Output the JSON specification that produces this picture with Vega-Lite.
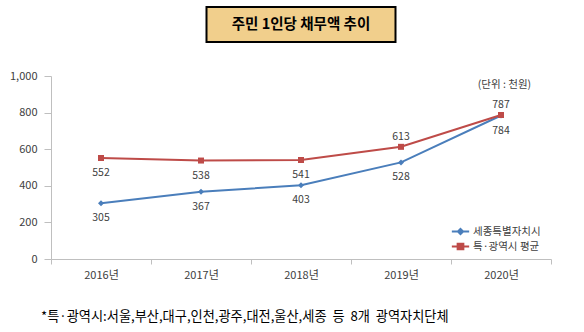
{
  "$schema": "https://vega.github.io/schema/vega-lite/v6.json",
  "background": "white",
  "padding": {"left": 9, "top": 6, "right": 5, "bottom": 5},
  "config": {"font": "Noto Sans CJK KR", "view": {"stroke": null}},
  "bounds": "flush",
  "center": true,
  "spacing": 34,
  "vconcat": [
    {
      "width": 189,
      "height": 35,
      "view": {"fill": "#F1CF8C", "stroke": "black", "strokeWidth": 2},
      "data": {"values": [{"t": "주민 1인당 채무액 추이"}]},
      "mark": {"type": "text", "fontSize": 14.5, "fontWeight": "bold", "color": "black"},
      "encoding": {"text": {"field": "t", "type": "nominal"}}
    },
    {
      "width": 500,
      "height": 183,
      "data": {
        "values": [
          {"year": "2016년", "series": "세종특별자치시", "value": 305},
          {"year": "2017년", "series": "세종특별자치시", "value": 367},
          {"year": "2018년", "series": "세종특별자치시", "value": 403},
          {"year": "2019년", "series": "세종특별자치시", "value": 528},
          {"year": "2020년", "series": "세종특별자치시", "value": 784},
          {"year": "2016년", "series": "특·광역시 평균", "value": 552},
          {"year": "2017년", "series": "특·광역시 평균", "value": 538},
          {"year": "2018년", "series": "특·광역시 평균", "value": 541},
          {"year": "2019년", "series": "특·광역시 평균", "value": 613},
          {"year": "2020년", "series": "특·광역시 평균", "value": 787}
        ]
      },
      "title": {
        "text": "*특·광역시:서울,부산,대구,인천,광주,대전,울산,세종\u00a0\u00a0등\u00a0\u00a08개\u00a0\u00a0광역자치단체",
        "orient": "bottom",
        "anchor": "start",
        "frame": "group",
        "fontSize": 13.2,
        "fontWeight": "normal",
        "color": "black",
        "offset": 31,
        "dx": -10
      },
      "encoding": {
        "x": {
          "field": "year",
          "type": "ordinal",
          "scale": {"type": "band", "paddingInner": 0, "paddingOuter": 0},
          "axis": {
            "title": null,
            "labelAngle": 0,
            "tickBand": "extent",
            "tickSize": 5,
            "labelPadding": 5,
            "labelFontSize": 11,
            "labelColor": "#404040",
            "domainColor": "#BFBFBF",
            "tickColor": "#BFBFBF",
            "grid": false
          }
        },
        "y": {
          "field": "value",
          "type": "quantitative",
          "scale": {"domain": [0, 1000], "nice": false},
          "axis": {
            "values": [0, 200, 400, 600, 800, 1000],
            "format": ",d",
            "grid": false,
            "tickSize": 7,
            "labelPadding": 7,
            "labelFontSize": 11,
            "labelColor": "#404040",
            "domainColor": "#BFBFBF",
            "tickColor": "#BFBFBF",
            "title": "(단위 : 천원)",
            "titleAngle": 0,
            "titleX": 453,
            "titleY": 8,
            "titleAlign": "center",
            "titleBaseline": "middle",
            "titleFontSize": 10.5,
            "titleFontWeight": "normal",
            "titleColor": "#404040"
          }
        },
        "color": {
          "field": "series",
          "type": "nominal",
          "scale": {"domain": ["세종특별자치시", "특·광역시 평균"], "range": ["#4A7EBB", "#BE4B48"]},
          "legend": {
            "title": null,
            "orient": "none",
            "legendX": 404,
            "legendY": 219,
            "padding": 0,
            "symbolSize": 75,
            "symbolStrokeWidth": 2,
            "labelFontSize": 10.5,
            "labelColor": "#404040",
            "labelOffset": 7,
            "rowPadding": 0,
            "encode": {
              "symbols": {
                "update": {
                  "shape": {"signal": "datum.value === '세종특별자치시' ? 'M-2,0H2M0,-0.6L0.6,0L0,0.6L-0.6,0Z' : 'M-2,0H2M-0.66,-0.66H0.66V0.66H-0.66Z'"},
                  "fill": {"scale": "color", "field": "value"},
                  "stroke": {"scale": "color", "field": "value"},
                  "fillOpacity": {"value": 1},
                  "strokeOpacity": {"value": 1},
                  "opacity": {"value": 1}
                }
              }
            }
          }
        }
      },
      "layer": [
        {
          "mark": {"type": "line", "strokeWidth": 2}
        },
        {
          "transform": [{"filter": "datum.series === '세종특별자치시'"}],
          "mark": {"type": "point", "filled": true, "opacity": 1, "size": 36, "shape": "diamond"}
        },
        {
          "transform": [{"filter": "datum.series !== '세종특별자치시'"}],
          "mark": {"type": "point", "filled": true, "opacity": 1, "size": 36, "shape": "square"}
        },
        {
          "transform": [{"filter": "datum.series === '세종특별자치시' || datum.year < '2019년'"}],
          "mark": {"type": "text", "dy": 15, "fontSize": 10.5, "color": "#404040"},
          "encoding": {"text": {"field": "value", "type": "quantitative"}, "color": {"value": "#404040"}}
        },
        {
          "transform": [{"filter": "datum.series !== '세종특별자치시' && datum.year >= '2019년'"}],
          "mark": {"type": "text", "dy": -10, "fontSize": 10.5, "color": "#404040"},
          "encoding": {"text": {"field": "value", "type": "quantitative"}, "color": {"value": "#404040"}}
        }
      ]
    }
  ]
}
